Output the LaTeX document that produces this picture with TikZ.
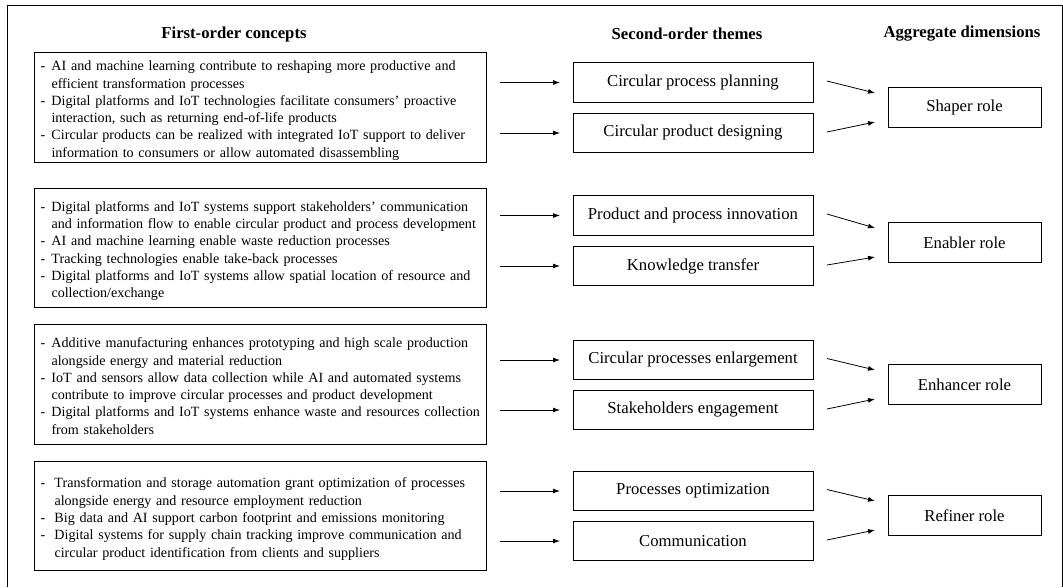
\documentclass[tikz,border=0pt]{standalone}
\usepackage{fontspec}
\setmainfont{Liberation Serif}
\usetikzlibrary{arrows.meta,calc}
\newcommand{\bi}[1]{\makebox[11pt][l]{-}#1}
\newcommand{\ci}[1]{\hspace*{11pt}#1}
\newcommand{\bw}[1]{\makebox[14pt][l]{-}#1}
\newcommand{\cw}[1]{\hspace*{14pt}#1}
\newcommand{\fotext}[1]{\raisebox{-3.5pt}[\height][\depth]{\begin{tabular}{@{}l@{}}#1\end{tabular}}}
\begin{document}
\begin{tikzpicture}[x=1pt,y=-1pt,
  every node/.style={inner sep=0pt, outer sep=0pt},
  hdr/.style={font=\fontsize{16.7}{20}\selectfont\bfseries},
  fo/.style={draw, line width=0.9pt, minimum width=452pt, text width=440pt, inner xsep=6pt, align=left, font=\fontsize{14.1}{17.3}\selectfont},
  so/.style={draw, line width=0.9pt, minimum width=240pt, minimum height=39.5pt, font=\fontsize{16.7}{20}\selectfont},
  ag/.style={draw, line width=0.9pt, minimum width=153pt, minimum height=39.5pt, font=\fontsize{16.7}{20}\selectfont},
  arr/.style={line width=0.8pt, -{Latex[length=7pt,width=5pt]}}
]
\useasboundingbox (0,0) rectangle (1063,587);
\draw[line width=0.9pt] (7,587) -- (7,5) -- (1062,5) -- (1062,587);

% headers
\node[hdr] (h1) at (234,34) {First-order concepts};
\node[hdr] (h2) at (687,34) {Second-order themes};
\node[hdr] (h3) at (962,34) {Aggregate dimensions};

% first-order boxes
\node[fo, minimum height=110pt] (f1) at (260.5,107) {\fotext{%
\bi{AI and machine learning contribute to reshaping more productive and}\\
\ci{efficient transformation processes}\\
\bi{Digital platforms and IoT technologies facilitate consumers’ proactive}\\
\ci{interaction, such as returning end-of-life products}\\
\bi{Circular products can be realized with integrated IoT support to deliver}\\
\ci{information to consumers or allow automated disassembling}}};

\node[fo, minimum height=119pt] (f2) at (260.5,247.5) {\fotext{%
\bi{Digital platforms and IoT systems support stakeholders’ communication}\\
\ci{and information flow to enable circular product and process development}\\
\bi{AI and machine learning enable waste reduction processes}\\
\bi{Tracking technologies enable take-back processes}\\
\bi{Digital platforms and IoT systems allow spatial location of resource and}\\
\ci{collection/exchange}}};

\node[fo, minimum height=120pt] (f3) at (260.5,384) {\fotext{%
\bi{Additive manufacturing enhances prototyping and high scale production}\\
\ci{alongside energy and material reduction}\\
\bi{IoT and sensors allow data collection while AI and automated systems}\\
\ci{contribute to improve circular processes and product development}\\
\bi{Digital platforms and IoT systems enhance waste and resources collection}\\
\ci{from stakeholders}}};

\node[fo, minimum height=109pt] (f4) at (260.5,515.5) {\fotext{%
\bw{Transformation and storage automation grant optimization of processes}\\
\cw{alongside energy and resource employment reduction}\\
\bw{Big data and AI support carbon footprint and emissions monitoring}\\
\bw{Digital systems for supply chain tracking improve communication and}\\
\cw{circular product identification from clients and suppliers}}};

% second-order themes
\node[so] (s1) at (693,82.5) {Circular process planning};
\node[so] (s2) at (693,133) {Circular product designing};
\node[so] (s3) at (693,215.5) {Product and process innovation};
\node[so] (s4) at (693,266) {Knowledge transfer};
\node[so] (s5) at (693,360) {Circular processes enlargement};
\node[so] (s6) at (693,410) {Stakeholders engagement};
\node[so] (s7) at (693,491) {Processes optimization};
\node[so] (s8) at (693,541) {Communication};

% aggregate dimensions
\node[ag] (g1) at (964.5,107.5) {Shaper role};
\node[ag] (g2) at (964.5,242.5) {Enabler role};
\node[ag] (g3) at (964.5,384.5) {Enhancer role};
\node[ag] (g4) at (964.5,515.5) {Refiner role};

% arrows first -> second
\foreach \s/\f in {s1/f1,s2/f1,s3/f2,s4/f2,s5/f3,s6/f3,s7/f4,s8/f4}{
  \draw[arr] ([xshift=13pt]\f.east |- \s.west) -- ([xshift=-13pt]\s.west);
}
% arrows second -> aggregate
\foreach \a/\b/\g in {s1/s2/g1,s3/s4/g2,s5/s6/g3,s7/s8/g4}{
  \draw[arr] ($(\a.east)+(14,-1.5)$) -- ($(\g.west)+(-13,-14.5)$);
  \draw[arr] ($(\b.east)+(14,-1)$) -- ($(\g.west)+(-13,14.5)$);
}
\end{tikzpicture}
\end{document}
